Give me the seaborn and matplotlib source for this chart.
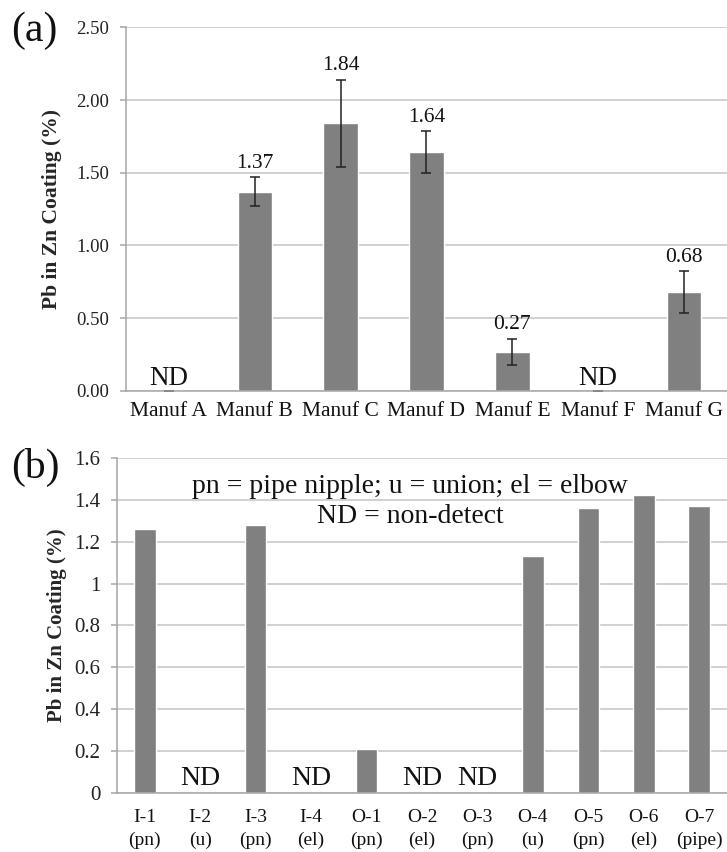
import numpy as np
import pandas as pd
import seaborn as sns
import matplotlib.pyplot as plt

# Panel (a): Pb in Zn coating by manufacturer
manuf = ['Manuf A', 'Manuf B', 'Manuf C', 'Manuf D', 'Manuf E', 'Manuf F', 'Manuf G']
manuf_pb = [0.0, 1.37, 1.84, 1.64, 0.27, 0.0, 0.68]
manuf_err = [0.0, 0.10, 0.30, 0.145, 0.09, 0.0, 0.145]
manuf_nd = [True, False, False, False, False, True, False]
a_yticks = [0.0, 0.5, 1.0, 1.5, 2.0, 2.5]

# Panel (b): Pb in Zn coating by fitting sample
samples = ['I-1\n(pn)', 'I-2\n(u)', 'I-3\n(pn)', 'I-4\n(el)', 'O-1\n(pn)', 'O-2\n(el)',
           'O-3\n(pn)', 'O-4\n(u)', 'O-5\n(pn)', 'O-6\n(el)', 'O-7\n(pipe)']
sample_pb = [1.26, 0.0, 1.28, 0.0, 0.21, 0.0, 0.0, 1.13, 1.36, 1.42, 1.37]
sample_nd = [False, True, False, True, False, True, True, False, False, False, False]
b_yticks = [0, 0.2, 0.4, 0.6, 0.8, 1, 1.2, 1.4, 1.6]
b_yticklabels = ['0', '0.2', '0.4', '0.6', '0.8', '1', '1.2', '1.4', '1.6']

sns.set_style('white')
plt.rcParams['font.family'] = ['Liberation Serif', 'DejaVu Serif']

bar_color = '#808080'
grid_color = '#c4c4c4'
spine_color = '#a6a6a6'

fig = plt.figure(figsize=(7.27, 8.52), dpi=100)
ax1 = fig.add_axes([0.1733, 0.5411, 0.8267, 0.4269])
ax2 = fig.add_axes([0.161, 0.0689, 0.839, 0.3939])


def style_axis(ax, n):
    ax.set_xlim(-0.5, n - 0.5)
    ax.grid(False)
    ax.yaxis.grid(True, color=grid_color, linewidth=1.1)
    ax.set_axisbelow(True)
    for s in ['top', 'right']:
        ax.spines[s].set_visible(False)
    for s in ['left', 'bottom']:
        ax.spines[s].set_color(spine_color)
        ax.spines[s].set_linewidth(1.1)
    # Excel style: ticks between categories
    ax.set_xticks(np.arange(-0.5, n), minor=True)
    ax.tick_params(axis='x', which='major', length=0)
    ax.tick_params(axis='x', which='minor', length=4, color=spine_color, width=1.1)
    ax.tick_params(axis='y', length=4, color=spine_color, width=1.1, direction='out',
                   left=True, pad=8)
    ax.set_xlabel('')


# ---- (a)
df_a = pd.DataFrame({'manuf': manuf, 'pb': manuf_pb})
sns.barplot(data=df_a, x='manuf', y='pb', color=bar_color, width=0.4,
            saturation=1, errorbar=None, ax=ax1)
ax1.errorbar(np.arange(len(manuf)), manuf_pb, yerr=manuf_err, fmt='none',
             ecolor='#222222', elinewidth=1.1, capsize=3.6, capthick=1.1)
ax1.set_ylim(0, 2.5)
ax1.set_yticks(a_yticks)
ax1.set_yticklabels([f'{v:.2f}' for v in a_yticks], fontsize=13.5, color='#222222')
style_axis(ax1, len(manuf))
ax1.tick_params(axis='x', which='major', labelsize=15.5, pad=8, labelcolor='#111111')
ax1.set_ylabel('Pb in Zn Coating (%)', fontsize=15.5, fontweight='bold')
ax1.yaxis.set_label_coords(-0.106, 0.5)
for i, (v, e, nd) in enumerate(zip(manuf_pb, manuf_err, manuf_nd)):
    if nd:
        ax1.annotate('ND', (i, 0), xytext=(0, 0), textcoords='offset points',
                     ha='center', va='bottom', fontsize=19.5, color='#111111')
    else:
        ax1.annotate(f'{v:.2f}', (i, v + e), xytext=(0, 3), textcoords='offset points',
                     ha='center', va='bottom', fontsize=15.5, color='#111111')

# ---- (b)
df_b = pd.DataFrame({'sample': samples, 'pb': sample_pb})
sns.barplot(data=df_b, x='sample', y='pb', color=bar_color, width=0.39,
            saturation=1, errorbar=None, ax=ax2)
ax2.set_ylim(0, 1.6)
ax2.set_yticks(b_yticks)
ax2.set_yticklabels(b_yticklabels, fontsize=15, color='#222222')
style_axis(ax2, len(samples))
ax2.tick_params(axis='x', which='major', labelsize=14, pad=11, labelcolor='#111111')
for lbl in ax2.get_xticklabels():
    lbl.set_linespacing(1.45)
ax2.set_ylabel('Pb in Zn Coating (%)', fontsize=15, fontweight='bold')
ax2.yaxis.set_label_coords(-0.082, 0.5)
for i, nd in enumerate(sample_nd):
    if nd:
        ax2.annotate('ND', (i, 0), xytext=(0, 2), textcoords='offset points',
                     ha='center', va='bottom', fontsize=20, color='#111111')
ax2.text(0.48, 0.915, 'pn = pipe nipple; u = union; el = elbow', transform=ax2.transAxes,
         ha='center', va='center', fontsize=20, color='#111111')
ax2.text(0.48, 0.825, 'ND = non-detect', transform=ax2.transAxes,
         ha='center', va='center', fontsize=20, color='#111111')

fig.text(0.015, 0.964, '(a)', fontsize=30, ha='left', va='center', color='#111111')
fig.text(0.015, 0.451, '(b)', fontsize=30, ha='left', va='center', color='#111111')

fig.savefig('out.png', dpi=100)
